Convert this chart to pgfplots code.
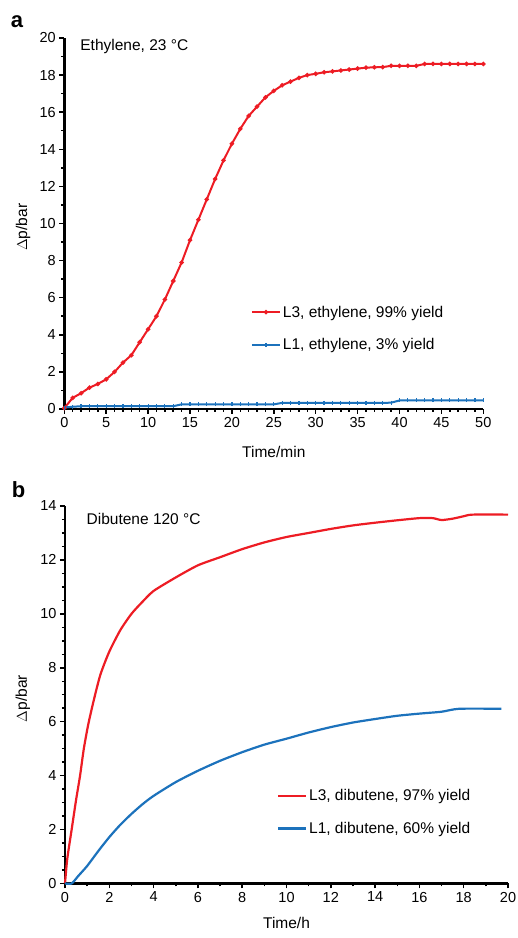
\documentclass[border=0pt]{standalone}
\usepackage{fontspec}
\setmainfont{Liberation Sans}
\usepackage{pgfplots}
\pgfplotsset{compat=1.18}

\definecolor{lred}{RGB}{237,28,36}
\definecolor{lblue}{RGB}{28,114,188}

\pgfplotsset{
  panel/.style={
    scale only axis,
    axis lines=left,
    axis line style={-, line width=2.4bp, black},
    tick align=outside,
    major tick length=5bp,
    minor tick length=3bp,
    every tick/.style={black, line width=1.5bp},
    tick label style={font=\fontsize{14.5bp}{17bp}\selectfont},
    label style={font=\fontsize{15.5bp}{18bp}\selectfont},
    /pgf/number format/assume math mode=true,
    legend cell align=left,
    legend style={draw=none, fill=none, inner sep=0pt,
      font=\fontsize{15.5bp}{18bp}\selectfont, row sep=16bp},
    legend image code/.code={
      \draw[mark repeat=2, mark phase=2, #1]
        plot coordinates {(0bp,0bp) (14bp,0bp) (28bp,0bp)};},
    clip=false,
  },
}

\begin{document}
\begin{tikzpicture}
\useasboundingbox (0,0) rectangle (518bp,938bp);

% panel a
\begin{axis}[panel,
  at={(64.3bp,529bp)}, anchor=south west,
  width=419bp, height=371bp,
  xmin=0, xmax=50, ymin=0, ymax=20,
  xtick={0,5,...,50}, ytick={0,2,...,20},
  minor x tick num=4, minor y tick num=1,
  xlabel={Time/min}, ylabel={$\Delta$p/bar},
  xlabel style={at={(axis description cs:0.5,-0.116)}, anchor=center},
  ylabel style={at={(axis description cs:-0.098,0.49)}, anchor=center},
  legend style={at={(axis description cs:0.445,0.217)}, anchor=west},
]
\addplot[lred, line width=2bp, mark=*, mark size=1.1bp] coordinates {
(0,0.05) (1,0.6) (2,0.85) (3,1.15) (4,1.35) (5,1.6) (6,2.0) (7,2.5)
(8,2.9) (9,3.6) (10,4.3) (11,5.0) (12,5.9) (13,6.9) (14,7.9) (15,9.1)
(16,10.2) (17,11.3) (18,12.4) (19,13.4) (20,14.3) (21,15.1) (22,15.8)
(23,16.3) (24,16.8) (25,17.15) (26,17.45) (27,17.65) (28,17.85) (29,18.0)
(30,18.07) (31,18.15) (32,18.2) (33,18.25) (34,18.3) (35,18.35) (36,18.4)
(37,18.42) (38,18.43) (39,18.5) (40,18.5) (41,18.5) (42,18.5) (43,18.6)
(44,18.6) (45,18.6) (46,18.6) (47,18.6) (48,18.6) (49,18.6) (50,18.6)
};
\addlegendentry{L3, ethylene, 99\% yield}
\addplot[lblue, line width=2bp, mark=|, mark size=2bp, mark options={line width=1.2bp}] coordinates {
(0,0.08) (1,0.12) (2,0.15) (3,0.15) (4,0.15) (5,0.15) (6,0.15) (7,0.15)
(8,0.15) (9,0.15) (10,0.15) (11,0.15) (12,0.15) (13,0.15) (14,0.25)
(15,0.25) (16,0.25) (17,0.25) (18,0.25) (19,0.25) (20,0.25) (21,0.25)
(22,0.25) (23,0.25) (24,0.25) (25,0.25) (26,0.33) (27,0.33) (28,0.33)
(29,0.33) (30,0.33) (31,0.33) (32,0.33) (33,0.33) (34,0.33) (35,0.33)
(36,0.33) (37,0.33) (38,0.33) (39,0.34) (40,0.46) (41,0.47) (42,0.47)
(43,0.47) (44,0.47) (45,0.47) (46,0.47) (47,0.47) (48,0.47) (49,0.47) (50,0.47)
};
\addlegendentry{L1, ethylene, 3\% yield}
\node[anchor=west, font=\fontsize{15.5bp}{18bp}\selectfont]
  at (axis description cs:0.030,0.978) {Ethylene, 23 °C};
\end{axis}

% panel b
\begin{axis}[panel,
  at={(65bp,54.5bp)}, anchor=south west,
  width=443bp, height=377.5bp,
  xmin=0, xmax=20, ymin=0, ymax=14,
  xtick={0,2,...,20}, ytick={0,2,...,14},
  minor x tick num=1, minor y tick num=3,
  xlabel={Time/h}, ylabel={$\Delta$p/bar},
  xlabel style={at={(axis description cs:0.5,-0.105)}, anchor=center},
  ylabel style={at={(axis description cs:-0.095,0.49)}, anchor=center},
  legend style={at={(axis description cs:0.478,0.189)}, anchor=west},
]
\addplot[lred, line width=2.2bp, smooth, tension=0.4] coordinates {
(0,0) (0.1,0.9) (0.3,2.0) (0.5,3.1) (0.68,4.0) (0.85,5.0) (1.05,5.9)
(1.3,6.8) (1.6,7.75) (2.0,8.6) (2.5,9.4) (3.0,10.0) (3.5,10.45)
(4.0,10.85) (5.0,11.35) (6.0,11.8) (7.0,12.1) (8.0,12.4) (9.0,12.65)
(10.0,12.85) (11.0,13.0) (12.0,13.15) (13.0,13.28) (14.0,13.38)
(15.0,13.47) (16.0,13.55) (16.6,13.55) (17.0,13.48) (17.5,13.53)
(18.0,13.62) (18.4,13.68) (20,13.68)
};
\addlegendentry{L3, dibutene, 97\% yield}
\addplot[lblue, line width=2.2bp, smooth, tension=0.4] coordinates {
(0,0) (0.3,0) (0.6,0.28) (1,0.65) (1.5,1.2) (2,1.72) (2.5,2.18) (3,2.58)
(3.5,2.94) (4,3.25) (5,3.76) (6,4.18) (7,4.55) (8,4.87) (9,5.15)
(10,5.37) (11,5.6) (12,5.8) (13,5.97) (14,6.1) (15,6.22) (16,6.3)
(17,6.37) (17.8,6.48) (19.7,6.48)
};
\addlegendentry{L1, dibutene, 60\% yield}
\node[anchor=west, font=\fontsize{15.5bp}{18bp}\selectfont]
  at (axis description cs:0.041,0.966) {Dibutene 120 °C};
\end{axis}

\node[font=\bfseries\fontsize{22bp}{24bp}\selectfont] at (17bp,916bp) {a};
\node[font=\bfseries\fontsize{22bp}{24bp}\selectfont] at (18.5bp,448bp) {b};
\end{tikzpicture}
\end{document}
